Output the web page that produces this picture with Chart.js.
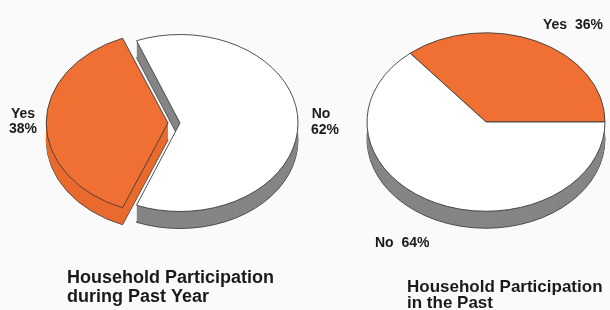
<!DOCTYPE html>
<html lang="en">
<head>
<meta charset="UTF-8">
<title>Household Participation</title>
<script src="https://cdn.jsdelivr.net/npm/chart.js"></script>
<style>
body{margin:0;background:#fafafa;}
.wrap{position:relative;width:610px;height:310px;overflow:hidden;}
canvas{position:absolute;left:0;top:0;}
</style>
</head>
<body>
<div class="wrap">
<canvas id="pastYear" width="610" height="310"></canvas>
<canvas id="inPast" width="610" height="310"></canvas>
</div>
<script>
// left pie: household participation during past year
const yearLabels = ["No", "Yes"];
const yearValues = [62, 38];
const yearTitle = ["Household Participation", "during Past Year"];

// right pie: household participation in the past
const pastLabels = ["Yes", "No"];
const pastValues = [36, 64];
const pastTitle = ["Household Participation", "in the Past"];

const ORANGE = '#f07033', ORANGE_SIDE = '#ea6a2e', GREY = '#858585', WHITE = '#ffffff', EDGE = '#3a3a3a';
const LABEL_FONT = 'bold 14px "Liberation Sans", Arial, sans-serif';

// squashes the pie into an ellipse and extrudes it downwards
const pie3d = {
  id: 'pie3d',
  beforeDatasetsDraw(chart, args, opts) {
    const ctx = chart.ctx;
    const arcs = chart.getDatasetMeta(0).data;
    const cx = arcs[0].x, cy = arcs[0].y;
    ctx.save();
    ctx.translate(cx, cy); ctx.scale(1, opts.tilt); ctx.translate(-cx, -cy);
    for (let d = opts.depth; d >= 1; d--) {
      ctx.save();
      ctx.translate(0, d / opts.tilt);
      arcs.forEach((arc, i) => {
        const side = Object.create(arc);
        side.options = Object.assign({}, arc.options, {backgroundColor: opts.sides[i], borderWidth: d === opts.depth ? 1 : 0});
        side.draw(ctx);
      });
      ctx.restore();
    }
  },
  afterDatasetsDraw(chart) { chart.ctx.restore(); },
  afterDraw(chart, args, opts) {
    const ctx = chart.ctx;
    ctx.save();
    ctx.fillStyle = '#1a1a1a';
    ctx.textBaseline = 'alphabetic';
    (opts.texts || []).forEach(t => {
      ctx.font = t.font || LABEL_FONT;
      ctx.textAlign = t.align || 'left';
      ctx.fillText(t.text, t.x, t.y);
    });
    ctx.restore();
  }
};

function makePie(id, labels, values, colors, sides, offsets, rotation, radius, padding, texts) {
  return new Chart(document.getElementById(id), {
    type: 'pie',
    data: {labels: labels, datasets: [{data: values, backgroundColor: colors, borderColor: EDGE, borderWidth: 1, offset: offsets, clip: false}]},
    options: {
      responsive: false, devicePixelRatio: 1, animation: false, events: [],
      rotation: rotation, radius: radius,
      layout: {padding: padding},
      plugins: {legend: {display: false}, tooltip: {enabled: false}, title: {display: false},
        pie3d: {tilt: 0.75, depth: 17, sides: sides, texts: texts}}
    },
    plugins: [pie3d]
  });
}

// "Yes" slice centred on the left (270 deg), "No" slice starts before it
const yearRotation = 270 - yearValues[1] * 3.6 / 2 - yearValues[0] * 3.6;
// "Yes" slice ends at 3 o'clock (90 deg)
const pastRotation = 90 - pastValues[0] * 3.6;

makePie('pastYear', yearLabels, yearValues, [WHITE, ORANGE], [GREY, ORANGE_SIDE], [0, 48],
  yearRotation, 118, {left: 0, right: 250, top: 0, bottom: 64},
  [
    {text: yearLabels[1], x: 23, y: 118, align: 'center'},
    {text: yearValues[1] + '%', x: 23, y: 133, align: 'center'},
    {text: yearLabels[0], x: 321, y: 118, align: 'center'},
    {text: yearValues[0] + '%', x: 325, y: 134, align: 'center'},
    {text: yearTitle[0], x: 67, y: 283, font: 'bold 18px "Liberation Sans", Arial, sans-serif'},
    {text: yearTitle[1], x: 67, y: 302, font: 'bold 18px "Liberation Sans", Arial, sans-serif'}
  ]);

makePie('inPast', pastLabels, pastValues, [ORANGE, WHITE], [ORANGE_SIDE, GREY], [0, 0],
  pastRotation, 119, {left: 362, right: 0, top: 0, bottom: 66},
  [
    {text: pastLabels[0] + '  ' + pastValues[0] + '%', x: 543, y: 29},
    {text: pastLabels[1] + '  ' + pastValues[1] + '%', x: 375, y: 247},
    {text: pastTitle[0], x: 407, y: 292, font: 'bold 17px "Liberation Sans", Arial, sans-serif'},
    {text: pastTitle[1], x: 407, y: 308, font: 'bold 17px "Liberation Sans", Arial, sans-serif'}
  ]);
</script>
</body>
</html>
